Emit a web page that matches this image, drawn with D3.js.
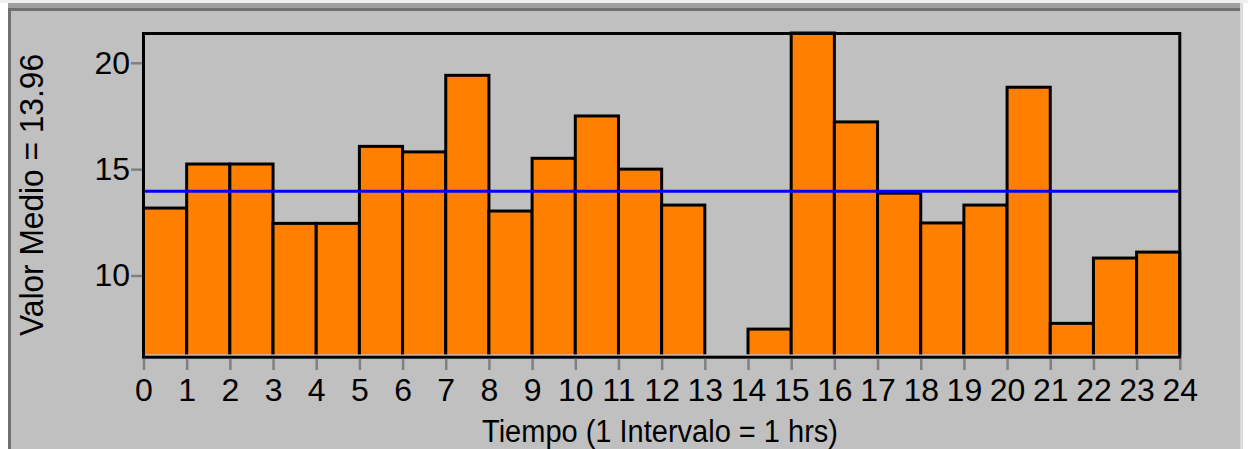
<!DOCTYPE html>
<html>
<head>
<meta charset="utf-8">
<script src="https://cdn.jsdelivr.net/npm/d3@7"></script>
<style>
  html, body { margin: 0; padding: 0; background: #ffffff; }
  svg { display: block; }
  text { font-family: "Liberation Sans", Arial, sans-serif; fill: #000; }
</style>
</head>
<body>
<svg id="chart" width="1248" height="449"></svg>
<script>
// ---- data ----
const hours = [0,1,2,3,4,5,6,7,8,9,10,11,12,13,14,15,16,17,18,19,20,21,22,23];
const values = [13.17,15.24,15.24,12.45,12.45,16.07,15.81,19.41,13.03,15.51,17.50,15.00,13.31,null,7.48,21.40,17.22,13.87,12.47,13.31,18.85,7.75,10.82,11.10];
const meanValue = 13.96;
const xTickValues = [0,1,2,3,4,5,6,7,8,9,10,11,12,13,14,15,16,17,18,19,20,21,22,23,24];
const yTickValues = [10,15,20];
const yDomain = [6.3, 21.4];
const xTitle = "Tiempo (1 Intervalo = 1 hrs)";
const yTitle = "Valor Medio = " + meanValue.toFixed(2);

// ---- layout ----
const svg = d3.select("#chart");
const W = 1248, H = 449;
const plot = { left: 143.5, right: 1179.8, top: 33, bottom: 354.2 };

// outer panel
svg.append("rect").attr("x", 0).attr("y", 0).attr("width", W).attr("height", 3).attr("fill", "#f0f0f0");
svg.append("rect").attr("x", 8).attr("y", 3).attr("width", 1232).attr("height", H - 3).attr("fill", "#a0a0a0");
svg.append("rect").attr("x", 8).attr("y", 8).attr("width", 1232).attr("height", H - 8).attr("fill", "#707070");
svg.append("rect").attr("x", 11).attr("y", 11).attr("width", 1229).attr("height", H - 11).attr("fill", "#c0c0c0");
svg.append("rect").attr("x", 1240).attr("y", 3).attr("width", 3).attr("height", H - 3).attr("fill", "#dcdcdc");

const x = d3.scaleLinear().domain([0, 24]).range([plot.left, plot.right]);
const y = d3.scaleLinear().domain(yDomain).range([plot.bottom, plot.top]);

// clip for bars
svg.append("clipPath").attr("id", "plotclip")
  .append("rect")
  .attr("x", plot.left - 2).attr("y", 0)
  .attr("width", plot.right - plot.left + 4)
  .attr("height", plot.bottom);

const barData = hours.map((h, i) => ({ h, v: values[i] })).filter(d => d.v != null);

svg.append("g").attr("clip-path", "url(#plotclip)")
  .selectAll("rect.bar")
  .data(barData)
  .join("rect")
  .attr("class", "bar")
  .attr("x", d => x(d.h))
  .attr("y", d => y(d.v))
  .attr("width", d => x(d.h + 1) - x(d.h))
  .attr("height", d => plot.bottom + 10 - y(d.v))
  .attr("fill", "#ff8000")
  .attr("stroke", "#000")
  .attr("stroke-width", 3);

// mean line
svg.append("line")
  .attr("x1", plot.left + 1.5).attr("x2", plot.right - 1.5)
  .attr("y1", y(meanValue)).attr("y2", y(meanValue))
  .attr("stroke", "#0000ff").attr("stroke-width", 3);

// frame
svg.append("rect")
  .attr("x", plot.left).attr("y", plot.top + 0.5)
  .attr("width", plot.right - plot.left)
  .attr("height", plot.bottom + 3 - (plot.top + 0.5))
  .attr("fill", "none").attr("stroke", "#000").attr("stroke-width", 3);

// x axis
const xAxis = svg.append("g")
  .attr("transform", `translate(0,${plot.bottom + 4.5})`)
  .call(d3.axisBottom(x).tickValues(xTickValues).tickFormat(d3.format("d"))
        .tickSize(11.3).tickSizeOuter(0).tickPadding(7.8));
xAxis.select(".domain").remove();
xAxis.selectAll(".tick line").attr("stroke", "#808080").attr("stroke-width", 2.5);
xAxis.selectAll(".tick text").attr("font-size", 32).attr("fill", "#000")
  .style("font-family", '"Liberation Sans", Arial, sans-serif');

// y axis
const yAxis = svg.append("g")
  .attr("transform", `translate(${plot.left - 1.5},0)`)
  .call(d3.axisLeft(y).tickValues(yTickValues).tickFormat(d3.format("d"))
        .tickSize(11).tickSizeOuter(0).tickPadding(1));
yAxis.select(".domain").remove();
yAxis.selectAll(".tick line").attr("stroke", "#808080").attr("stroke-width", 2.5);
yAxis.selectAll(".tick text").attr("font-size", 32).attr("fill", "#000")
  .style("font-family", '"Liberation Sans", Arial, sans-serif');

// titles
svg.append("text")
  .attr("x", 660).attr("y", 441.5)
  .attr("text-anchor", "middle")
  .attr("font-size", 31)
  .attr("textLength", 356).attr("lengthAdjust", "spacingAndGlyphs")
  .text(xTitle);

svg.append("text")
  .attr("transform", "translate(42.5,195) rotate(-90)")
  .attr("text-anchor", "middle")
  .attr("font-size", 33)
  .attr("textLength", 282).attr("lengthAdjust", "spacingAndGlyphs")
  .text(yTitle);
</script>
</body>
</html>
